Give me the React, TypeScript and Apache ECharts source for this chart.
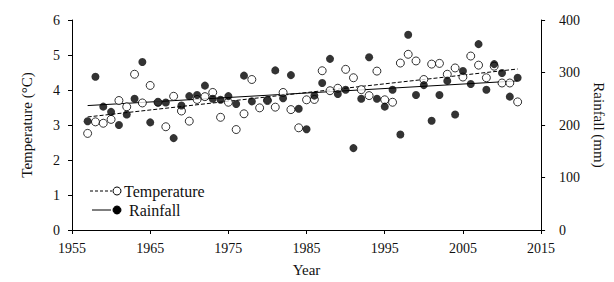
import React, { useEffect, useRef } from "react";
import * as echarts from "echarts";

const years: number[] = [
  1957, 1958, 1959, 1960, 1961, 1962, 1963, 1964, 1965, 1966, 1967, 1968, 1969, 1970,
  1971, 1972, 1973, 1974, 1975, 1976, 1977, 1978, 1979, 1980, 1981, 1982, 1983, 1984,
  1985, 1986, 1987, 1988, 1989, 1990, 1991, 1992, 1993, 1994, 1995, 1996, 1997, 1998,
  1999, 2000, 2001, 2002, 2003, 2004, 2005, 2006, 2007, 2008, 2009, 2010, 2011, 2012,
];

const temperature: number[] = [
  2.76, 3.09, 3.05, 3.16, 3.7, 3.52, 4.45, 3.63, 4.13, 3.65, 2.95, 3.82, 3.4, 3.11,
  3.73, 3.81, 3.93, 3.22, 3.65, 2.87, 3.32, 4.3, 3.49, 3.7, 3.51, 3.93, 3.44, 2.92,
  3.72, 3.73, 4.55, 3.98, 4.05, 4.59, 4.35, 4.01, 3.84, 4.54, 3.72, 3.65, 4.77, 5.02,
  4.83, 4.3, 4.74, 4.76, 4.45, 4.63, 4.37, 4.97, 4.71, 4.35, 4.68, 4.2, 4.2, 3.66,
];

const rainfall: (number | null)[] = [
  207, 292, 235, 225, 200, 220, 250, 320, 205, 243, 243, 175, 237, 255,
  257, 275, 250, 248, 255, 240, 294, 245, null, 247, 304, 251, 295, 231,
  192, 256, 280, 326, 259, 267, 156, 250, 329, 250, 235, 267, 182, 372,
  257, 276, 208, 257, 284, 220, 303, 278, 354, 267, 316, 299, 254, 290,
];

const tempTrendYears: number[] = [1957, 2012];
const tempTrend: number[] = [3.23, 4.6];
const rainTrendYears: number[] = [1957, 2012];
const rainTrend: number[] = [237, 284];

const FONT = "'Liberation Serif', 'Times New Roman', serif";

export default function App() {
  const ref = useRef<HTMLDivElement>(null);

  useEffect(() => {
    if (!ref.current) return;
    const chart = echarts.init(ref.current, undefined, { renderer: "svg" });
    const axisLine = { show: true, lineStyle: { color: "#000", width: 1 } };
    const axisTick = { show: true, inside: false, length: 4, lineStyle: { color: "#000", width: 1 } };
    const labelStyle = { color: "#111", fontFamily: FONT, fontSize: 14 };
    const nameStyle = { color: "#111", fontFamily: FONT, fontSize: 15 };

    chart.setOption({
      animation: false,
      backgroundColor: "#fff",
      grid: { left: 72, right: 70, top: 20, bottom: 49, containLabel: false },
      xAxis: {
        type: "value",
        min: 1955,
        max: 2015,
        interval: 10,
        name: "Year",
        nameLocation: "middle",
        nameGap: 32,
        nameTextStyle: nameStyle,
        axisLine,
        axisTick,
        splitLine: { show: false },
        axisLabel: { ...labelStyle, margin: 11, formatter: (v: number) => String(v) },
      },
      yAxis: [
        {
          type: "value",
          position: "left",
          min: 0,
          max: 6,
          interval: 1,
          name: "Temperature (°C)",
          nameLocation: "middle",
          nameGap: 38,
          nameRotate: 90,
          nameTextStyle: nameStyle,
          axisLine,
          axisTick,
          splitLine: { show: false },
          axisLabel: { ...labelStyle, margin: 12 },
        },
        {
          type: "value",
          position: "right",
          min: 0,
          max: 400,
          interval: 100,
          name: "Rainfall (mm)",
          nameLocation: "middle",
          nameGap: 48,
          nameRotate: -90,
          nameTextStyle: nameStyle,
          axisLine,
          axisTick,
          splitLine: { show: false },
          axisLabel: { ...labelStyle, margin: 18 },
        },
      ],
      graphic: [
        {
          type: "line",
          shape: { x1: 90, y1: 191, x2: 112, y2: 191 },
          style: { stroke: "#000", lineWidth: 1, lineDash: [3, 2] },
        },
        {
          type: "circle",
          shape: { cx: 117, cy: 191, r: 4 },
          style: { fill: "#fff", stroke: "#000", lineWidth: 1 },
        },
        {
          type: "text",
          x: 124,
          y: 191,
          style: {
            text: "Temperature",
            fill: "#111",
            font: `16px ${FONT}`,
            verticalAlign: "middle",
            align: "left",
          },
        },
        {
          type: "line",
          shape: { x1: 92, y1: 210, x2: 111, y2: 210 },
          style: { stroke: "#000", lineWidth: 1 },
        },
        {
          type: "circle",
          shape: { cx: 117, cy: 210, r: 4 },
          style: { fill: "#000", stroke: "#000", lineWidth: 1 },
        },
        {
          type: "text",
          x: 129,
          y: 210,
          style: {
            text: "Rainfall",
            fill: "#111",
            font: `16px ${FONT}`,
            verticalAlign: "middle",
            align: "left",
          },
        },
      ],
      series: [
        {
          name: "Temperature trend",
          type: "line",
          yAxisIndex: 0,
          z: 1,
          symbol: "none",
          data: tempTrendYears.map((y, i) => [y, tempTrend[i]]),
          lineStyle: { color: "#000", width: 1, type: [4, 2] },
        },
        {
          name: "Rainfall trend",
          type: "line",
          yAxisIndex: 1,
          z: 1,
          symbol: "none",
          data: rainTrendYears.map((y, i) => [y, rainTrend[i]]),
          lineStyle: { color: "#000", width: 1 },
        },
        {
          name: "Temperature",
          type: "scatter",
          yAxisIndex: 0,
          z: 2,
          symbol: "circle",
          symbolSize: 8,
          data: years.map((y, i) => [y, temperature[i]]),
          itemStyle: { color: "#fff", borderColor: "#000", borderWidth: 1 },
        },
        {
          name: "Rainfall",
          type: "scatter",
          yAxisIndex: 1,
          z: 3,
          symbol: "circle",
          symbolSize: 8,
          data: years
            .map((y, i) => [y, rainfall[i]])
            .filter((d) => d[1] !== null),
          itemStyle: { color: "#000" },
        },
      ],
    });

    return () => chart.dispose();
  }, []);

  return (
    <div
      ref={ref}
      style={{ position: "fixed", left: 0, top: 0, width: 614, height: 282, background: "#fff" }}
    />
  );
}
